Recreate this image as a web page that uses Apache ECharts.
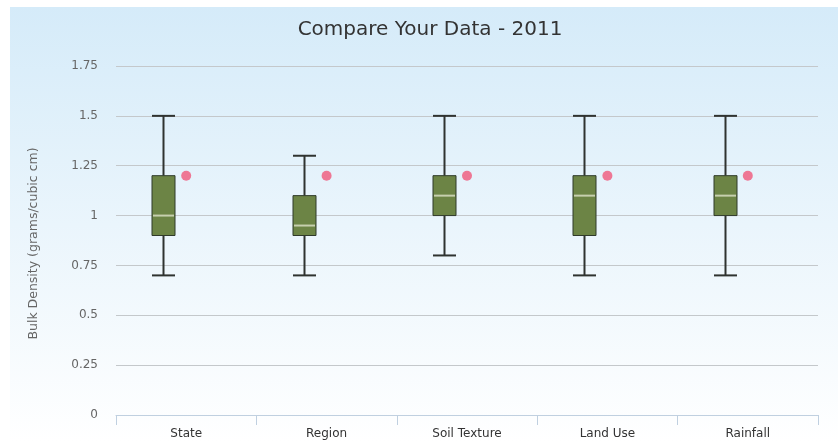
<!DOCTYPE html>
<html>
<head>
<meta charset="utf-8">
<script src="https://cdn.jsdelivr.net/npm/echarts@6/dist/echarts.min.js"></script>
<style>
html,body{margin:0;padding:0;background:#fff;}
#chart{width:838px;height:442px;}
</style>
</head>
<body>
<div id="chart"></div>
<script>
var categories = ['State', 'Region', 'Soil Texture', 'Land Use', 'Rainfall'];
var lowValues = [0.7, 0.7, 0.8, 0.7, 0.7];
var q1Values = [0.9, 0.9, 1.0, 0.9, 1.0];
var medianValues = [1.0, 0.95, 1.1, 1.1, 1.1];
var q3Values = [1.2, 1.1, 1.2, 1.2, 1.2];
var highValues = [1.5, 1.3, 1.5, 1.5, 1.5];
var yourValues = [1.2, 1.2, 1.2, 1.2, 1.2];
var yTicks = [0, 0.25, 0.5, 0.75, 1, 1.25, 1.5, 1.75];

var boxData = categories.map(function (c, i) {
  return [i, lowValues[i], q1Values[i], medianValues[i], q3Values[i], highValues[i]];
});
var dotData = categories.map(function (c, i) { return [i, yourValues[i]]; });

var chart = echarts.init(document.getElementById('chart'));
var BOX_OFFSET = -23, BOX_W = 23;

function renderBox(params, api) {
  var idx = api.value(0);
  var pLow = api.coord([idx, api.value(1)]);
  var pQ1 = api.coord([idx, api.value(2)]);
  var pMed = api.coord([idx, api.value(3)]);
  var pQ3 = api.coord([idx, api.value(4)]);
  var pHigh = api.coord([idx, api.value(5)]);
  var cx = Math.round(pLow[0] + BOX_OFFSET) + 0.5;
  var x0 = cx - BOX_W / 2, x1 = cx + BOX_W / 2;
  var lineStyle = { stroke: '#2f3330', lineWidth: 2 };
  return {
    type: 'group',
    children: [
      { type: 'line', shape: { x1: cx, y1: pHigh[1], x2: cx, y2: pQ3[1] }, style: lineStyle },
      { type: 'line', shape: { x1: cx, y1: pQ1[1], x2: cx, y2: pLow[1] }, style: lineStyle },
      { type: 'line', shape: { x1: x0, y1: pHigh[1], x2: x1, y2: pHigh[1] }, style: lineStyle },
      { type: 'line', shape: { x1: x0, y1: pLow[1], x2: x1, y2: pLow[1] }, style: lineStyle },
      { type: 'rect', shape: { x: x0, y: pQ3[1], width: BOX_W, height: pQ1[1] - pQ3[1] },
        style: { fill: '#6c8445', stroke: '#2f3a2a', lineWidth: 1 } },
      { type: 'line', shape: { x1: x0 + 1, y1: pMed[1], x2: x1 - 1, y2: pMed[1] },
        style: { stroke: '#c6cfae', lineWidth: 2 } }
    ]
  };
}

var option = {
  animation: false,
  backgroundColor: 'transparent',
  graphic: [{
    type: 'rect', left: 10, top: 7, z: -10,
    shape: { width: 828, height: 435 },
    style: {
      fill: new echarts.graphic.LinearGradient(0, 0, 0, 1, [
        { offset: 0, color: '#d5ebf9' },
        { offset: 1, color: '#ffffff' }
      ])
    }
  }],
  title: {
    text: 'Compare Your Data - 2011',
    left: 425, top: 15, textAlign: 'center',
    textStyle: { fontFamily: 'DejaVu Sans', fontSize: 20, fontWeight: 'normal', color: '#333333' }
  },
  grid: { left: 116, right: 20, top: 66, bottom: 27 },
  xAxis: {
    type: 'category',
    data: categories,
    boundaryGap: true,
    axisLine: { lineStyle: { color: '#c0d0e0', width: 1 } },
    axisTick: { show: true, length: 10, lineStyle: { color: '#c0d0e0' }, alignWithLabel: false },
    axisLabel: { color: '#333333', fontSize: 12, fontFamily: 'DejaVu Sans', margin: 13 },
    splitLine: { show: false }
  },
  yAxis: {
    type: 'value',
    min: 0, max: 1.75, interval: 0.25,
    name: 'Bulk Density (grams/cubic cm)',
    nameLocation: 'middle', nameGap: 76, nameRotate: 90,
    nameTextStyle: { color: '#666666', fontSize: 12.5, fontFamily: 'DejaVu Sans', padding: [0, 6, 0, 0] },
    axisLine: { show: false },
    axisTick: { show: false },
    axisLabel: {
      color: '#666666', fontSize: 12, fontFamily: 'DejaVu Sans', margin: 18,
      formatter: function (v) {
        for (var i = 0; i < yTicks.length; i++) if (Math.abs(yTicks[i] - v) < 1e-9) return String(yTicks[i]);
        return '';
      }
    },
    splitLine: { lineStyle: { color: '#c4c8cb', width: 1 } }
  },
  series: [
    {
      type: 'custom',
      renderItem: renderBox,
      data: boxData,
      encode: { x: 0, y: [1, 2, 3, 4, 5] },
      z: 3
    },
    {
      type: 'scatter',
      data: dotData,
      symbol: 'circle',
      symbolSize: 10,
      itemStyle: { color: '#f0587a' },
      z: 4
    }
  ]
};
chart.setOption(option);
</script>
</body>
</html>
